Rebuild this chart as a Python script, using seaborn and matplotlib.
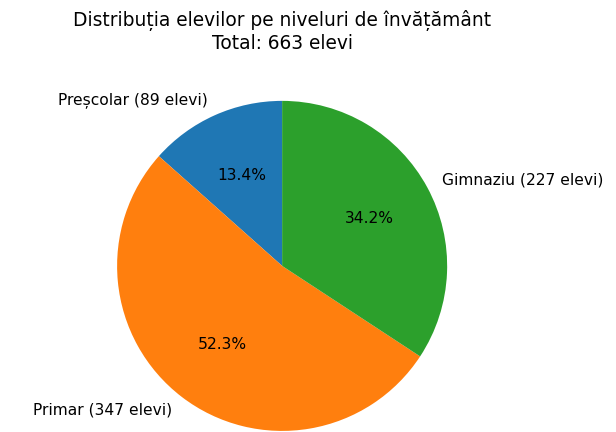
import matplotlib
matplotlib.use("Agg")
import matplotlib.pyplot as plt
import seaborn as sns

categories = ["Preșcolar", "Primar", "Gimnaziu"]
counts = [89, 347, 227]
total = sum(counts)

plt.rcParams['font.family'] = ['DejaVu Sans']
colors = sns.color_palette("tab10", 3)

fig = plt.figure(figsize=(6.16, 4.32), dpi=100)
ax = fig.add_axes([0.123, -0.093, 0.670, 0.955])
labels = [f"{c} ({n} elevi)" for c, n in zip(categories, counts)]
ax.pie(counts, labels=labels, autopct="%1.1f%%", startangle=90, colors=colors,
       wedgeprops={"linewidth": 0, "edgecolor": "none"},
       textprops={"fontsize": 11.2, "color": "black"})
ax.set_aspect("equal")
fig.text(0.458, 0.978, f"Distribuția elevilor pe niveluri de învățământ\nTotal: {total} elevi",
         ha="center", va="top", fontsize=13.4, linespacing=1.2, color="black")
fig.savefig("out.png", dpi=100)
